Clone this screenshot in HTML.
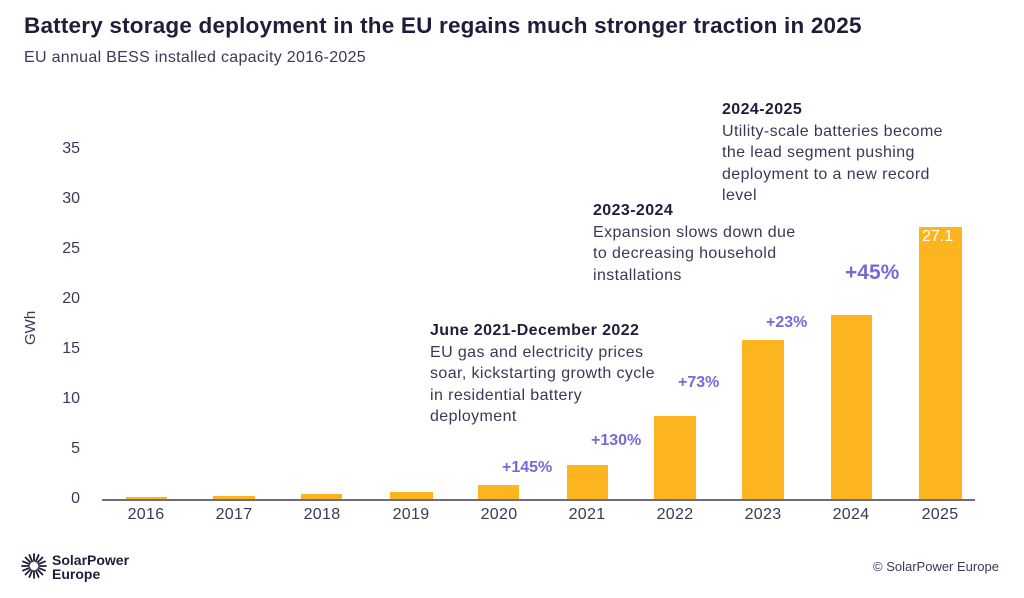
<!DOCTYPE html>
<html><head><meta charset="utf-8"><style>
body{margin:0;width:1024px;height:598px;background:#fff;font-family:"Liberation Sans",sans-serif;position:relative;overflow:hidden;color:#2b2a4a}
.a{position:absolute;white-space:nowrap}
.bar{position:absolute;background:#FDB51F}
.yl{position:absolute;left:40px;width:40px;text-align:right;font-size:16px;color:#3a3955}
.xl{position:absolute;top:506px;width:88px;text-align:center;font-size:16px;color:#3a3955;letter-spacing:0.3px}
.pc{position:absolute;color:#7A68D6;font-weight:bold;font-size:16px}
.note{position:absolute;font-size:16px;letter-spacing:0.4px;line-height:21.5px;color:#3a3955;white-space:nowrap}
.note b{color:#1f1d3a}
</style></head><body>
<div class="a" style="left:24px;top:13px;font-size:22.5px;letter-spacing:0.2px;font-weight:bold;color:#1f1d3a">Battery storage deployment in the EU regains much stronger traction in 2025</div>
<div class="a" style="left:24px;top:49px;font-size:16px;letter-spacing:0.3px;color:#3a3955">EU annual BESS installed capacity 2016-2025</div>
<div class="a" style="left:22px;top:345px;font-size:15px;color:#3a3955;transform:rotate(-90deg);transform-origin:left top">GWh</div>
<div class="yl" style="top:140px">35</div>
<div class="yl" style="top:190px">30</div>
<div class="yl" style="top:240px">25</div>
<div class="yl" style="top:290px">20</div>
<div class="yl" style="top:340px">15</div>
<div class="yl" style="top:390px">10</div>
<div class="yl" style="top:440px">5</div>
<div class="yl" style="top:490px">0</div>
<div style="position:absolute;left:102px;top:499px;width:873px;height:2px;background:#6e6c85"></div>
<div class="bar" style="left:126px;top:497px;width:41px;height:2px"></div>
<div class="bar" style="left:213px;top:496px;width:42px;height:3px"></div>
<div class="bar" style="left:301px;top:494px;width:41px;height:5px"></div>
<div class="bar" style="left:390px;top:492px;width:43px;height:7px"></div>
<div class="bar" style="left:478px;top:485px;width:41px;height:14px"></div>
<div class="bar" style="left:567px;top:465px;width:41px;height:34px"></div>
<div class="bar" style="left:654px;top:416px;width:42px;height:83px"></div>
<div class="bar" style="left:742px;top:340px;width:42px;height:159px"></div>
<div class="bar" style="left:831px;top:315px;width:41px;height:184px"></div>
<div class="bar" style="left:919px;top:227px;width:43px;height:272px"></div>
<div class="a" style="left:922px;top:228px;font-size:16px;color:#fff">27.1</div>
<div class="xl" style="left:102px">2016</div>
<div class="xl" style="left:190px">2017</div>
<div class="xl" style="left:278px">2018</div>
<div class="xl" style="left:367px">2019</div>
<div class="xl" style="left:455px">2020</div>
<div class="xl" style="left:543px">2021</div>
<div class="xl" style="left:631px">2022</div>
<div class="xl" style="left:719px">2023</div>
<div class="xl" style="left:807px">2024</div>
<div class="xl" style="left:896px">2025</div>
<div class="pc" style="left:502px;top:459px">+145%</div>
<div class="pc" style="left:591px;top:432px">+130%</div>
<div class="pc" style="left:678px;top:374px">+73%</div>
<div class="pc" style="left:766px;top:314px">+23%</div>
<div class="pc" style="left:845px;top:261px;font-size:21px">+45%</div>
<div class="note" style="left:430px;top:320px"><b>June 2021-December 2022</b><br>EU gas and electricity prices<br>soar, kickstarting growth cycle<br>in residential battery<br>deployment</div>
<div class="note" style="left:593px;top:200px"><b>2023-2024</b><br>Expansion slows down due<br>to decreasing household<br>installations</div>
<div class="note" style="left:722px;top:99px"><b>2024-2025</b><br>Utility-scale batteries become<br>the lead segment pushing<br>deployment to a new record<br>level</div>
<svg style="position:absolute;left:21px;top:553px" width="26" height="26" viewBox="-13 -13 26 26"><g stroke="#1f1d3a" stroke-width="1.8" stroke-linecap="round">
<line x1="0" y1="-5" x2="0" y2="-12"/><line x1="0" y1="5" x2="0" y2="12"/><line x1="-5" y1="0" x2="-12" y2="0"/><line x1="5" y1="0" x2="12" y2="0"/>
<line x1="3.5" y1="3.5" x2="8.5" y2="8.5"/><line x1="-3.5" y1="3.5" x2="-8.5" y2="8.5"/><line x1="3.5" y1="-3.5" x2="8.5" y2="-8.5"/><line x1="-3.5" y1="-3.5" x2="-8.5" y2="-8.5"/>
<line x1="1.9" y1="4.6" x2="4.6" y2="11"/><line x1="-1.9" y1="4.6" x2="-4.6" y2="11"/><line x1="1.9" y1="-4.6" x2="4.6" y2="-11"/><line x1="-1.9" y1="-4.6" x2="-4.6" y2="-11"/>
<line x1="4.6" y1="1.9" x2="11" y2="4.6"/><line x1="-4.6" y1="1.9" x2="-11" y2="4.6"/><line x1="4.6" y1="-1.9" x2="11" y2="-4.6"/><line x1="-4.6" y1="-1.9" x2="-11" y2="-4.6"/></g></svg>
<div class="a" style="left:52px;top:553px;font-size:14px;line-height:14px;color:#1f1d3a;font-weight:bold">SolarPower<br>Europe</div>
<div class="a" style="left:873px;top:559px;font-size:13px;color:#3a3955">© SolarPower Europe</div>
</body></html>
